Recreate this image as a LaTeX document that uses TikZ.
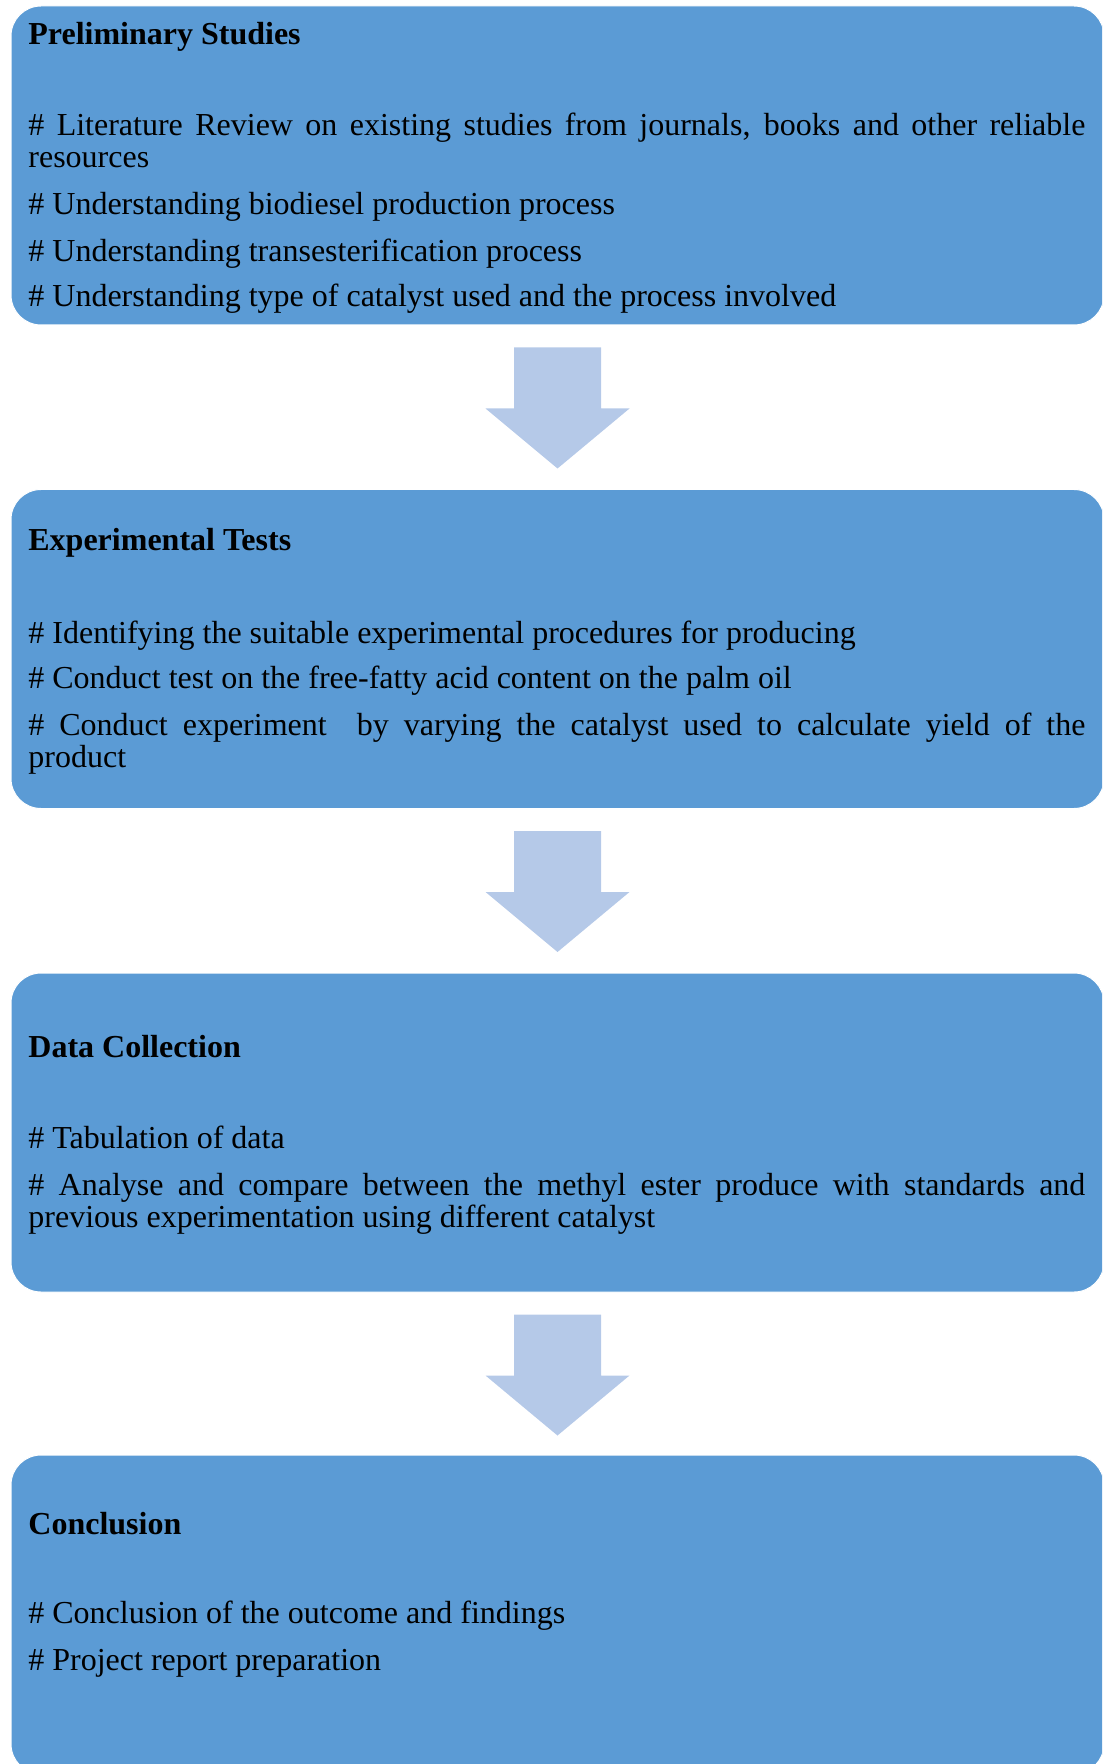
\documentclass[tikz,border=0pt]{standalone}
\usepackage{fontspec}
\setmainfont{Liberation Serif}
\usetikzlibrary{calc}
\definecolor{boxblue}{HTML}{5B9BD5}
\definecolor{arrblue}{HTML}{B5C9E8}
\begin{document}
\begin{tikzpicture}[x=0.5pt,y=-0.5pt,
  box/.style={shape=rectangle, fill=boxblue, draw=white, line width=0.5pt,
    rounded corners=15pt, minimum width=546.5pt, minimum height=159.5pt, inner sep=0pt},
  ln/.style={anchor=base west, inner sep=0pt, font=\fontsize{16pt}{19pt}\selectfont},
  ttl/.style={ln, font=\fontsize{16pt}{19pt}\selectfont\bfseries},
  blockarrow/.style={fill=arrblue, draw=none}]
\useasboundingbox (0,0) rectangle (1102,1764);
\clip (0,0) rectangle (1102,1764);
% boxes
\node[box] (b1) at (557.5,165.5) {};
\node[box] (b2) at (557.5,649) {};
\node[box] (b3) at (557.5,1132.5) {};
\node[box] (b4) at (557.5,1614.5) {};
% block arrows
\foreach \s in {b1,b2,b3}{
  \path[blockarrow] (\s.south) ++(-43.5,22) -- ++(87,0) -- ++(0,61) -- ++(28.5,0)
    -- ++(-72,60) -- ++(-72,-60) -- ++(28.5,0) -- cycle;
}
\newcommand{\jline}[1]{\makebox[528.5pt][s]{#1}}
% box 1
\node[ttl] (t1) at (28,45) {Preliminary Studies};
\node[ln] (l11) at (28,136) {\jline{\# Literature Review on existing studies from journals, books and other reliable}};
\node[ln] (l12) at (28,168) {resources};
\node[ln] (l13) at (28,215) {\# Understanding biodiesel production process};
\node[ln] (l14) at (28,262) {\# Understanding transesterification process};
\node[ln] (l15) at (28,307) {\# Understanding type of catalyst used and the process involved};
% box 2
\node[ttl] (t2) at (28,551) {Experimental Tests};
\node[ln] (l21) at (28,643) {\# Identifying the suitable experimental procedures for producing};
\node[ln] (l22) at (28,688) {\# Conduct test on the free-fatty acid content on the palm oil};
\node[ln] (l23) at (28,735) {\jline{\# Conduct experiment \ by varying the catalyst used to calculate yield of the}};
\node[ln] (l24) at (28,767) {product};
% box 3
\node[ttl] (t3) at (28,1057) {Data Collection};
\node[ln] (l31) at (28,1148) {\# Tabulation of data};
\node[ln] (l32) at (28,1195) {\jline{\# Analyse and compare between the methyl ester produce with standards and}};
\node[ln] (l33) at (28,1227) {previous experimentation using different catalyst};
% box 4
\node[ttl] (t4) at (28,1534) {Conclusion};
\node[ln] (l41) at (28,1623) {\# Conclusion of the outcome and findings};
\node[ln] (l42) at (28,1670) {\# Project report preparation};
\end{tikzpicture}
\end{document}
